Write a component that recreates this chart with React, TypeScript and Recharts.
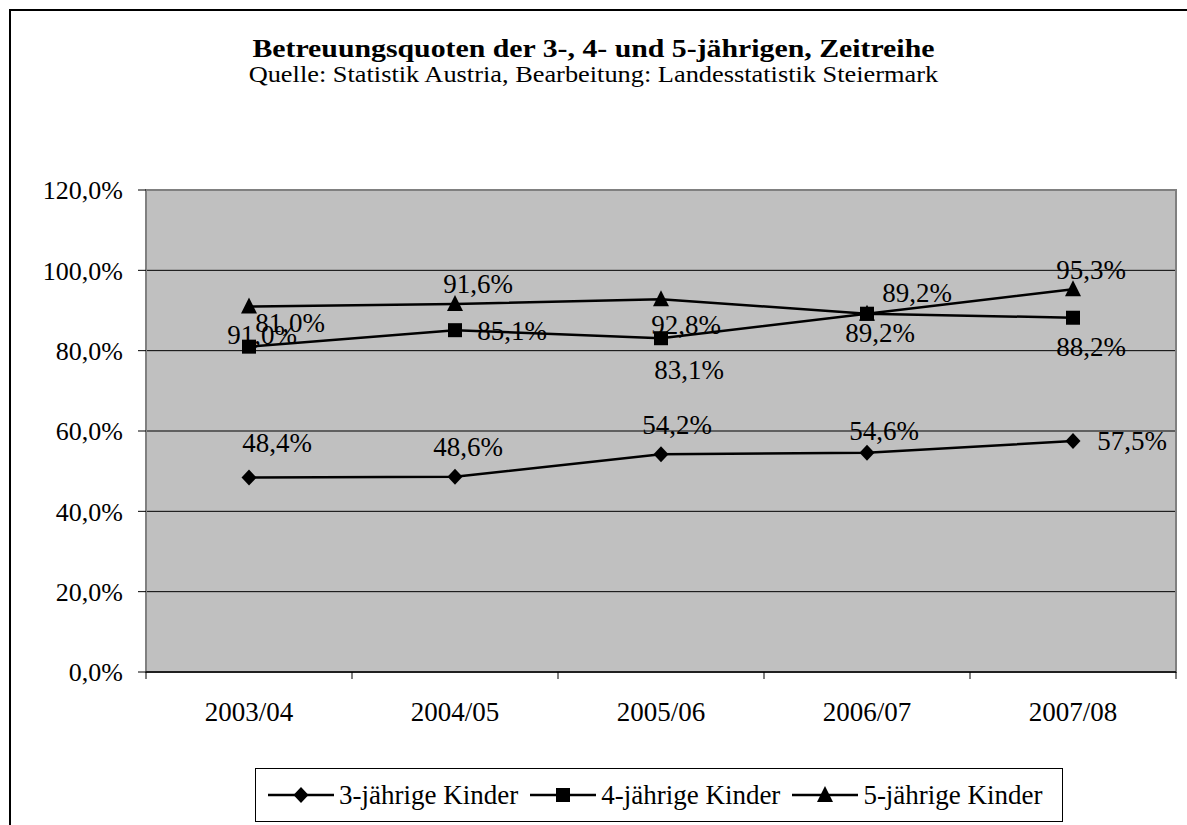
import { LineChart, Line, XAxis, YAxis, CartesianGrid, ReferenceArea, LabelList } from 'recharts';

const CATEGORIES = ['2003/04', '2004/05', '2005/06', '2006/07', '2007/08'];
const KIDS_3 = [48.4, 48.6, 54.2, 54.6, 57.5];
const KIDS_4 = [81.0, 85.1, 83.1, 89.2, 88.2];
const KIDS_5 = [91.0, 91.6, 92.8, 89.2, 95.3];
const SERIES_NAMES = ['3-jährige Kinder', '4-jährige Kinder', '5-jährige Kinder'];
const Y_TICKS = [0, 20, 40, 60, 80, 100, 120];

// label placement relative to each point (Excel put them a bit all over the place)
const LABEL_OFFSETS_3 = [[28, -35], [13, -30], [16, -30], [17, -22], [59, 0]];
const LABEL_OFFSETS_4 = [[41, -24], [57, 0], [28, 31], [13, 19], [18, 29]];
const LABEL_OFFSETS_5 = [[13, 28], [23, -21], [25, 25], [50, -21], [18, -20]];

const FONT = '"Liberation Serif", "Times New Roman", serif';

const data = CATEGORIES.map((name, i) => ({
  pos: i + 0.5,
  name,
  k3: KIDS_3[i],
  k4: KIDS_4[i],
  k5: KIDS_5[i],
}));

const xTicks = [0, 0.5, 1, 1.5, 2, 2.5, 3, 3.5, 4, 4.5, 5];

const pct = (v: number) => v.toFixed(1).replace('.', ',') + '%';

const Diamond = ({ cx, cy }: any) => (
  <polygon points={`${cx},${cy - 8} ${cx + 7.5},${cy} ${cx},${cy + 8} ${cx - 7.5},${cy}`} fill="#000" />
);
const Square = ({ cx, cy }: any) => <rect x={cx - 7} y={cy - 7} width={14} height={14} fill="#000" />;
const Triangle = ({ cx, cy }: any) => (
  <polygon points={`${cx},${cy - 9} ${cx + 8},${cy + 7} ${cx - 8},${cy + 7}`} fill="#000" />
);

const MARKERS = [Diamond, Square, Triangle];

const makeLabel = (offsets: number[][]) => (props: any) => {
  const { x, y, value, index } = props;
  const [dx, dy] = offsets[index];
  return (
    <text x={x + dx} y={y + dy} dy="0.35em" textAnchor="middle" fontSize={27} fontFamily={FONT} fill="#000">
      {pct(value)}
    </text>
  );
};

const XTick = (props: any) => {
  const { x, y, payload } = props;
  const v = payload.value;
  if (Number.isInteger(v)) {
    return <line x1={x} y1={y} x2={x} y2={y + 7} stroke="#000" strokeWidth={1} />;
  }
  return (
    <text x={x} y={y + 30} dy="0.71em" textAnchor="middle" fontSize={27} fontFamily={FONT} fill="#000">
      {CATEGORIES[Math.floor(v)]}
    </text>
  );
};

function LegendBox() {
  return (
    <div
      style={{
        position: 'absolute',
        left: 255,
        top: 768,
        width: 794,
        height: 52,
        border: '1px solid #000',
        background: '#fff',
        display: 'flex',
        alignItems: 'center',
        paddingLeft: 12,
        boxSizing: 'content-box',
        gap: 12,
        fontFamily: FONT,
        fontSize: 27,
        whiteSpace: 'nowrap',
      }}
    >
      {SERIES_NAMES.map((name, i) => {
        const Marker = MARKERS[i];
        return (
          <div key={name} style={{ display: 'flex', alignItems: 'center' }}>
            <svg width={66} height={20} style={{ marginRight: 5 }}>
              <line x1={0} y1={10} x2={66} y2={10} stroke="#000" strokeWidth={2.5} />
              <Marker cx={33} cy={10} />
            </svg>
            <span>{name}</span>
          </div>
        );
      })}
    </div>
  );
}

const headStyle = {
  position: 'absolute' as const,
  left: 0,
  width: 1187,
  textAlign: 'center' as const,
  fontFamily: FONT,
  transform: 'scaleX(1.146)',
  transformOrigin: '594px 0',
};

export default function App() {
  return (
    <div style={{ position: 'absolute', left: 0, top: 0, width: 1187, height: 825, overflow: 'hidden', background: '#fff' }}>
      <div
        style={{
          position: 'absolute',
          left: 9,
          top: 9,
          width: 1200,
          height: 840,
          border: '2px solid #000',
        }}
      />
      <div style={{ ...headStyle, top: 36, fontWeight: 'bold', fontSize: 26, lineHeight: '26px' }}>
        Betreuungsquoten der 3-, 4- und 5-jährigen, Zeitreihe
      </div>
      <div style={{ ...headStyle, top: 63, fontSize: 23, lineHeight: '23px' }}>
        Quelle: Statistik Austria, Bearbeitung: Landesstatistik Steiermark
      </div>
      <div style={{ position: 'absolute', left: 0, top: 0 }}>
        <LineChart width={1187} height={825} data={data} margin={{ top: 190, right: 11, bottom: 93, left: 66 }}>
          <CartesianGrid vertical={false} fill="#C0C0C0" stroke="#000" strokeWidth={1} horizontalValues={Y_TICKS} />
          <ReferenceArea x1={0} x2={5} y1={0} y2={120} fill="none" stroke="#808080" strokeWidth={2} />
          <XAxis
            dataKey="pos"
            type="number"
            domain={[0, 5]}
            ticks={xTicks}
            interval={0}
            tick={<XTick />}
            tickLine={false}
            tickSize={0}
            tickMargin={0}
            height={60}
            axisLine={{ stroke: '#000', strokeWidth: 1.5 }}
          />
          <YAxis
            type="number"
            domain={[0, 120]}
            ticks={Y_TICKS}
            width={80}
            tickSize={8}
            tickMargin={15}
            tickFormatter={pct}
            axisLine={false}
            tickLine={{ stroke: '#000' }}
            tick={{ fontSize: 26, fontFamily: FONT, fill: '#000' }}
          />
          <Line dataKey="k3" name={SERIES_NAMES[0]} stroke="#000" strokeWidth={2.5} dot={<Diamond />} isAnimationActive={false}>
            <LabelList dataKey="k3" content={makeLabel(LABEL_OFFSETS_3)} />
          </Line>
          <Line dataKey="k4" name={SERIES_NAMES[1]} stroke="#000" strokeWidth={2.5} dot={<Square />} isAnimationActive={false}>
            <LabelList dataKey="k4" content={makeLabel(LABEL_OFFSETS_4)} />
          </Line>
          <Line dataKey="k5" name={SERIES_NAMES[2]} stroke="#000" strokeWidth={2.5} dot={<Triangle />} isAnimationActive={false}>
            <LabelList dataKey="k5" content={makeLabel(LABEL_OFFSETS_5)} />
          </Line>
        </LineChart>
      </div>
      <LegendBox />
    </div>
  );
}
